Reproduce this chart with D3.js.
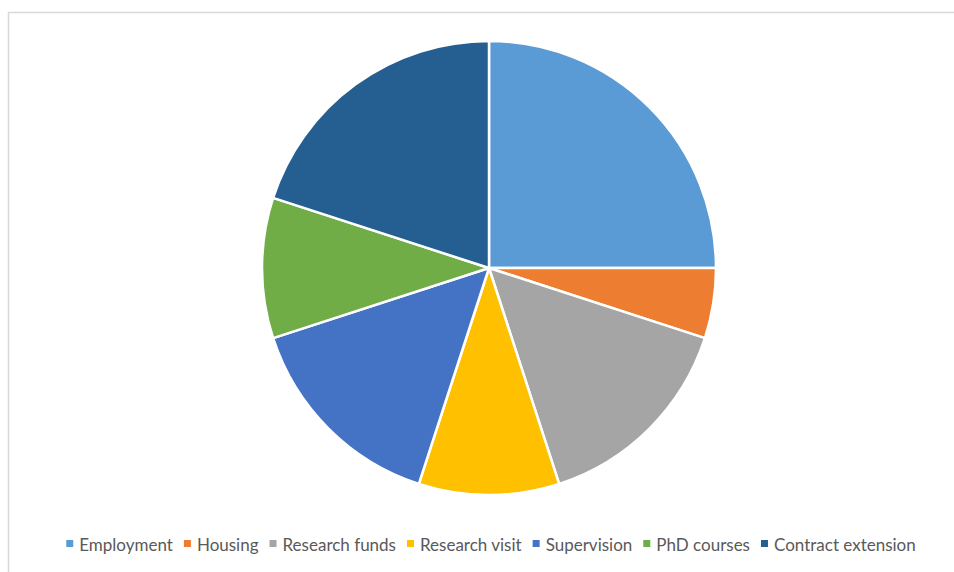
<!DOCTYPE html>
<html>
<head>
    <script src="https://d3js.org/d3.v7.min.js"></script>
    <style>
        body { margin: 0; background: #fff; }
        .legend text { font-family: Lato, "Open Sans", sans-serif; font-size: 17px; fill: #595959; }
    </style>
</head>
<body>
    <div id="chart"></div>
    <script>
        // Chart data
        const categories = ["Employment", "Housing", "Research funds", "Research visit", "Supervision", "PhD courses", "Contract extension"];
        const values = [25, 5, 15, 10, 15, 10, 20];
        const colors = ["#5b9bd5", "#ed7d31", "#a5a5a5", "#ffc000", "#4472c4", "#70ad47", "#255e91"];

        const width = 954, height = 572;
        const cx = 489, cy = 268, radius = 227;

        const svg = d3.select("#chart").append("svg")
            .attr("width", width)
            .attr("height", height);

        // chart area border
        svg.append("rect")
            .attr("x", 8.5).attr("y", 12.5)
            .attr("width", 960).attr("height", 600)
            .attr("fill", "none")
            .attr("stroke", "#d9d9d9")
            .attr("stroke-width", 1.5);

        const data = categories.map((c, i) => ({ name: c, value: values[i], color: colors[i] }));

        const pie = d3.pie().value(d => d.value).sort(null);
        const arc = d3.arc().innerRadius(0).outerRadius(radius);

        const g = svg.append("g").attr("transform", `translate(${cx},${cy})`);

        g.selectAll("path")
            .data(pie(data))
            .enter()
            .append("path")
            .attr("d", arc)
            .attr("fill", d => d.data.color)
            .attr("stroke", "#fff")
            .attr("stroke-width", 2.5)
            .attr("stroke-linejoin", "round");

        // Legend
        const legend = svg.append("g").attr("class", "legend");
        const items = legend.selectAll("g")
            .data(data)
            .enter()
            .append("g");

        items.append("rect")
            .attr("width", 7).attr("height", 7)
            .attr("y", -11)
            .attr("fill", d => d.color);

        items.append("text")
            .attr("x", 13)
            .attr("y", 0)
            .text(d => d.name);

        // position items one after another, centred under the pie
        let xPos = 0;
        const gap = 11;
        items.each(function() {
            const w = this.querySelector("text").getComputedTextLength();
            d3.select(this).attr("transform", `translate(${xPos},0)`);
            xPos += 13 + w + gap;
        });
        const total = xPos - gap;
        legend.attr("transform", `translate(${cx - total / 2 + 2},551)`);
    </script>
</body>
</html>
